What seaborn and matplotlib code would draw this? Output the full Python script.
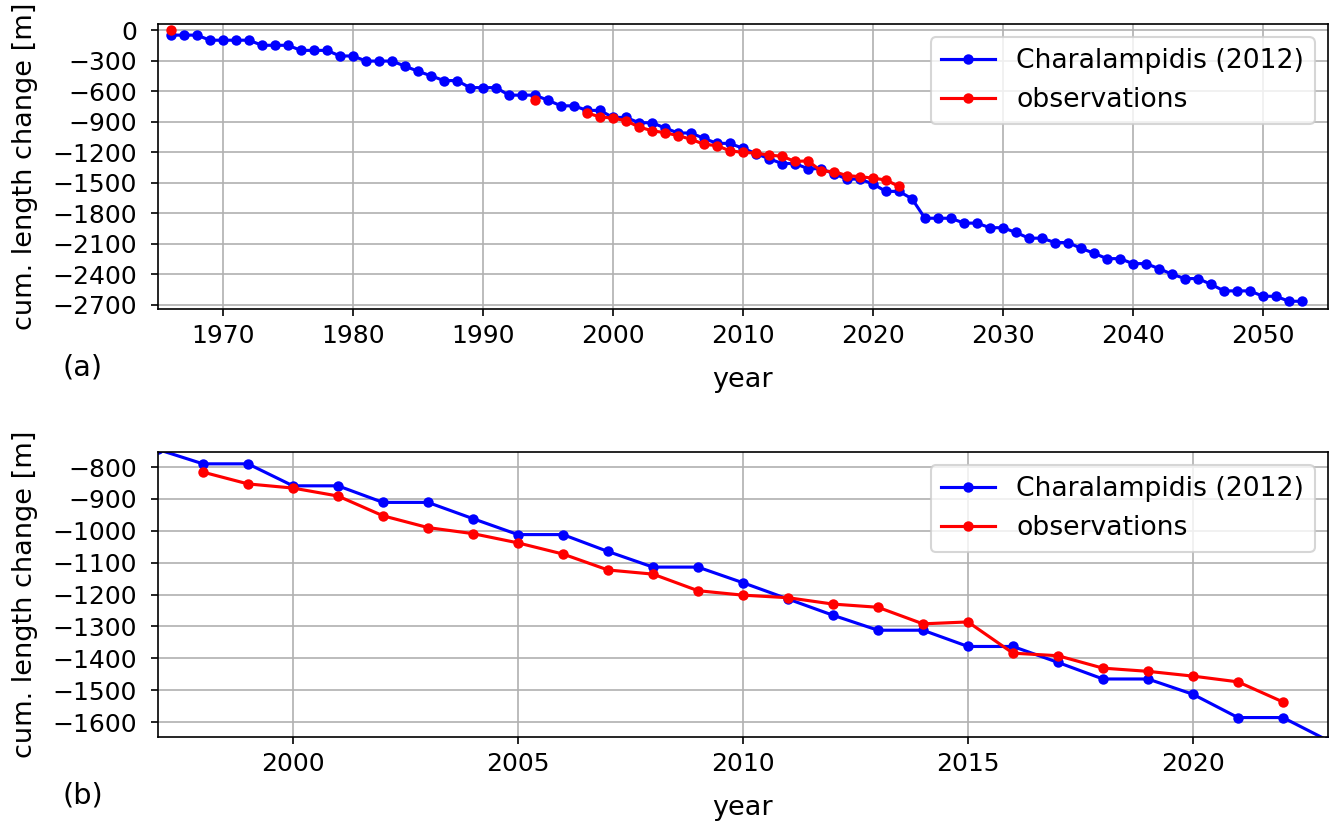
import matplotlib.pyplot as plt
import pandas as pd
import seaborn as sns
from matplotlib.ticker import MultipleLocator

# Charalampidis (2012) modelled cumulative length change [m]
model_years = list(range(1966, 2054))
model_change = [-50, -50, -50, -100, -100, -100, -100, -150, -150, -150,
                -200, -200, -200, -255, -255, -305, -305, -305, -355, -405,
                -450, -497, -497, -566, -566, -566, -640, -640, -640, -690,
                -745, -745, -790, -790, -859, -859, -911, -911, -962, -1012,
                -1012, -1065, -1114, -1114, -1163, -1214, -1265, -1312, -1312, -1363,
                -1363, -1413, -1465, -1465, -1513, -1586, -1586, -1658, -1850, -1850,
                -1850, -1898, -1898, -1943, -1943, -1990, -2046, -2046, -2089, -2089,
                -2145, -2194, -2247, -2247, -2296, -2296, -2345, -2400, -2443, -2443,
                -2499, -2564, -2564, -2564, -2617, -2617, -2666, -2666]

# observed cumulative length change [m]
obs_years = [1966, 1994, 1998, 1999, 2000, 2001, 2002, 2003, 2004, 2005,
             2006, 2007, 2008, 2009, 2010, 2011, 2012, 2013, 2014, 2015,
             2016, 2017, 2018, 2019, 2020, 2021, 2022]
obs_change = [0, -692, -816, -853, -866, -891, -953, -990, -1009, -1038,
              -1073, -1123, -1136, -1188, -1202, -1210, -1230, -1240, -1292, -1286,
              -1384, -1392, -1431, -1441, -1456, -1474, -1537]

MODEL = "Charalampidis (2012)"
OBS = "observations"


def to_frame(years, values, name):
    df = pd.DataFrame({"year": years, "change": values})
    df["source"] = name
    # start a new segment wherever years are missing, so gaps stay open
    df["segment"] = (df["year"].diff() != 1).cumsum()
    return df


data = pd.concat([to_frame(model_years, model_change, MODEL),
                  to_frame(obs_years, obs_change, OBS)], ignore_index=True)

plt.rcParams["font.size"] = 12
plt.rcParams["ytick.major.pad"] = 6.5

fig, (ax_a, ax_b) = plt.subplots(2, 1, figsize=(1333 / 150, 823 / 150), dpi=150)
fig.subplots_adjust(left=0.1185, right=0.9962, top=0.9708, bottom=0.1045,
                    hspace=0.502)


def plot_panel(ax, xlim, ylim, xstep, ystep, tag):
    sns.lineplot(data=data, x="year", y="change", hue="source",
                 hue_order=[MODEL, OBS], palette={MODEL: "blue", OBS: "red"},
                 units="segment", estimator=None, sort=False,
                 marker="o", markersize=5, markeredgewidth=0, linewidth=1.5,
                 ax=ax)
    ax.set_xlim(*xlim)
    ax.set_ylim(*ylim)
    ax.xaxis.set_major_locator(MultipleLocator(xstep))
    ax.yaxis.set_major_locator(MultipleLocator(ystep))
    ax.grid(True)
    ax.set_xlabel("year", fontsize=13, labelpad=9.5)
    ax.set_ylabel("cum. length change [m]", fontsize=13, labelpad=7)
    sns.move_legend(ax, "upper right", title=None, fontsize=12.8)
    ax.text(-0.082, -0.207, tag, transform=ax.transAxes,
            ha="left", va="center", fontsize=13.8)


plot_panel(ax_a, (1965, 2055), (-2742, 59), 10, 300, "(a)")
plot_panel(ax_b, (1997, 2023), (-1647, -753), 5, 100, "(b)")

fig.savefig("out.png", dpi=150)
